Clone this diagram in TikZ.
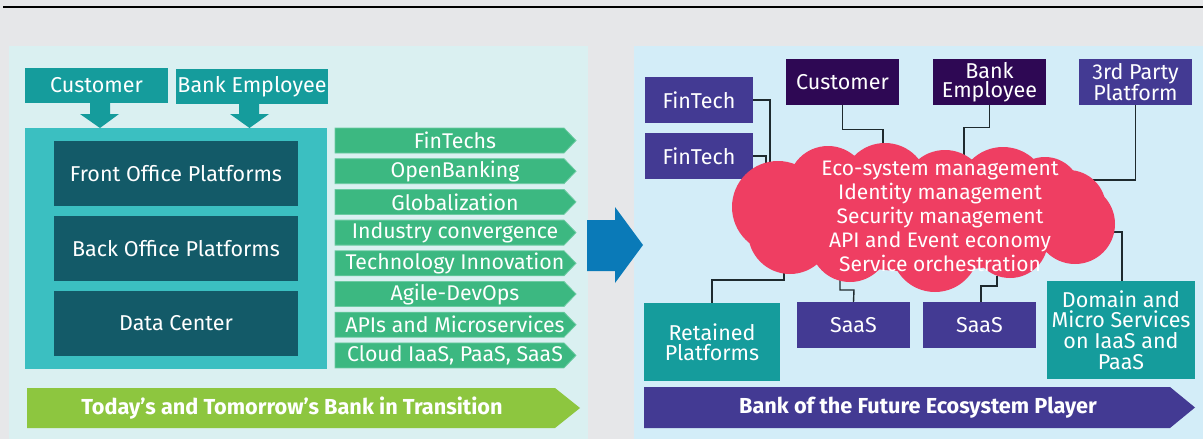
\documentclass[tikz,border=0pt]{standalone}
\usepackage{fontspec}
\setmainfont{Fira Sans}
\definecolor{bggray}{HTML}{E6E7E9}
\definecolor{leftpanel}{HTML}{DAF0F1}
\definecolor{rightpanel}{HTML}{D3EDF8}
\definecolor{tealbox}{HTML}{159C9C}
\definecolor{bigteal}{HTML}{3BBFC1}
\definecolor{darkbox}{HTML}{135A68}
\definecolor{greenarr}{HTML}{3CB881}
\definecolor{greenedge}{HTML}{6CCBA2}
\definecolor{limearr}{HTML}{8DC63F}
\definecolor{bluearr}{HTML}{0A7AB8}
\definecolor{purplebox}{HTML}{433A93}
\definecolor{darkpurple}{HTML}{2E0854}
\definecolor{cloudred}{HTML}{EF3E62}
\definecolor{connline}{HTML}{1E2A2E}
\newcommand{\mybox}[7]{\node[box, fill=#6, minimum width={#4-#2}, minimum height={#5-#3}] (#1) at ({(#2+#4)/2},{(#3+#5)/2}) {#7};}
\newcommand{\puff}[3]{\fill[cloudred] (#1,#2) circle [radius=#3pt];}
\begin{document}
\begin{tikzpicture}[x=1pt,y=-1pt,
  box/.style={rectangle, inner sep=0pt, text=white, align=center, font=\fontsize{21.5}{19.5}\selectfont},
  lbl/.style={inner sep=0pt, text=white, align=center, font=\fontsize{21.3}{20}\selectfont},
  boldlbl/.style={inner sep=0pt, text=white, font=\fontsize{21.7}{20}\selectfont\bfseries},
  conn/.style={draw=connline, line width=1.4pt}]
\useasboundingbox (0,0) rectangle (1203,439);
\fill[bggray] (0,0) rectangle (1203,439);
\draw[line width=1.8pt] (3,7) -- (1203,7);
% panels
\fill[leftpanel] (9,46) rectangle (588,439);
\fill[rightpanel] (634,46) rectangle (1203,439);
% ---------- left ----------
\mybox{lcust}{25}{68}{168}{103}{tealbox}{Customer}
\mybox{lemp}{176}{69}{328}{104}{tealbox}{Bank Employee}
\fill[bigteal] (25,128) rectangle (327,369);
\node[inner sep=0pt, minimum width=302, minimum height=241] (core) at (176,248.5) {};
\fill[tealbox] (90,103) -- (110,103) -- (110,114) -- (119,114) -- (100,128) -- (80,114) -- (90,114) -- cycle;
\fill[tealbox] (239,104) -- (259,104) -- (259,114) -- (269,114) -- (249.5,128) -- (230,114) -- (239,114) -- cycle;
\mybox{front}{54}{141}{298}{206}{darkbox}{Front Office Platforms}
\mybox{back}{54}{216}{298}{281}{darkbox}{Back Office Platforms}
\mybox{dc}{54}{291}{298}{356}{darkbox}{Data Center}
% green chevrons
\foreach \t [count=\i from 0] in {FinTechs,OpenBanking,Globalization,Industry convergence,Technology Innovation,Agile-DevOps,APIs and Microservices,{Cloud IaaS, PaaS, SaaS}}{
  \pgfmathsetmacro{\yt}{128+30.7*\i}
  \fill[greenarr, draw=greenedge, line width=0.8pt] (335,\yt) -- (564,\yt) -- (576,\yt+12.5) -- (564,\yt+25) -- (335,\yt+25) -- cycle;
  \node[lbl] (trend\i) at (455,\yt+12.5) {\t};
}
% bottom lime arrow
\fill[limearr] (27,388) -- (555,388) -- (580,408) -- (555,428) -- (27,428) -- cycle;
\node[boldlbl] (lefttitle) at (292,408) {Today’s and Tomorrow’s Bank in Transition};
% blue transition arrow
\fill[bluearr] (587,220) -- (615,220) -- (615,207) -- (643,245) -- (615,283) -- (615,271) -- (587,271) -- cycle;
% ---------- right ----------
\mybox{ft1}{645}{77}{753}{123}{purplebox}{FinTech}
\mybox{ft2}{645}{133}{753}{179}{purplebox}{FinTech}
\mybox{rcust}{786}{59}{899}{105}{darkpurple}{Customer}
\mybox{remp}{933}{59}{1046}{105}{darkpurple}{Bank\\Employee}
\mybox{third}{1079}{59}{1192}{105}{purplebox}{3rd Party\\Platform}
\mybox{retained}{644}{303}{780}{381}{tealbox}{Retained\\Platforms}
\mybox{saas1}{797}{302}{910}{348}{purplebox}{SaaS}
\mybox{saas2}{923}{302}{1036}{348}{purplebox}{SaaS}
\node[box, fill=tealbox, minimum width=148, minimum height=98, font=\fontsize{21.5}{20.7}\selectfont] (domain) at (1121,330) {Domain and\\Micro Services\\on IaaS and\\PaaS};
% cloud anchor points
\coordinate (c1) at (770,182);
\coordinate (c2) at (766,190);
\coordinate (c3) at (883,156);
\coordinate (c4) at (964,156);
\coordinate (c5) at (1090,180);
\coordinate (c6) at (1104,232);
\coordinate (c7) at (784,258);
\coordinate (c8) at (840,278);
\coordinate (c9) at (997,276);
% connectors
\draw[conn] (ft1.east) -| (c1);
\draw[conn] (ft2.east) -| (c2);
\draw[conn] (rcust.south) -- ++(0,24) -| (c3);
\draw[conn] (remp.south) -- ++(0,22) -| (c4);
\draw[conn] (third.south) |- (c5);
\draw[conn] (domain.north -| 1122,0) |- (c6);
\draw[conn] (retained.north -| 712,0) -- (712,280) -| (c7);
\draw[conn] (saas1.north) -- (854,290) -| (c8);
\draw[conn] (saas2.north -| 981,0) -- (981,286) -| (c9);
% cloud (union of puffs)
\node[inner sep=0pt, minimum width=383, minimum height=149] (cloud) at (923,217) {};
\fill[cloudred] (925,216) ellipse [x radius=150pt, y radius=56pt];
\puff{778}{207}{46}
\puff{828}{186}{40}
\puff{885}{186}{43}
\puff{945}{192}{42}
\puff{1003}{192}{45}
\puff{1045}{193}{36}
\puff{1068}{208}{38}
\puff{1075}{224}{40}
\puff{1010}{240}{38}
\puff{935}{248}{44}
\puff{850}{242}{40}
\puff{790}{232}{42}
\node[lbl, font=\fontsize{21}{24}\selectfont] (cloudtxt) at (940,216) {Eco-system management\\Identity management\\Security management\\API and Event economy\\Service orchestration};
% bottom purple arrow
\fill[purplebox] (644,387) -- (1170,387) -- (1195,407.5) -- (1170,428) -- (644,428) -- cycle;
\node[boldlbl] (righttitle) at (918,407.5) {Bank of the Future Ecosystem Player};
\end{tikzpicture}
\end{document}
